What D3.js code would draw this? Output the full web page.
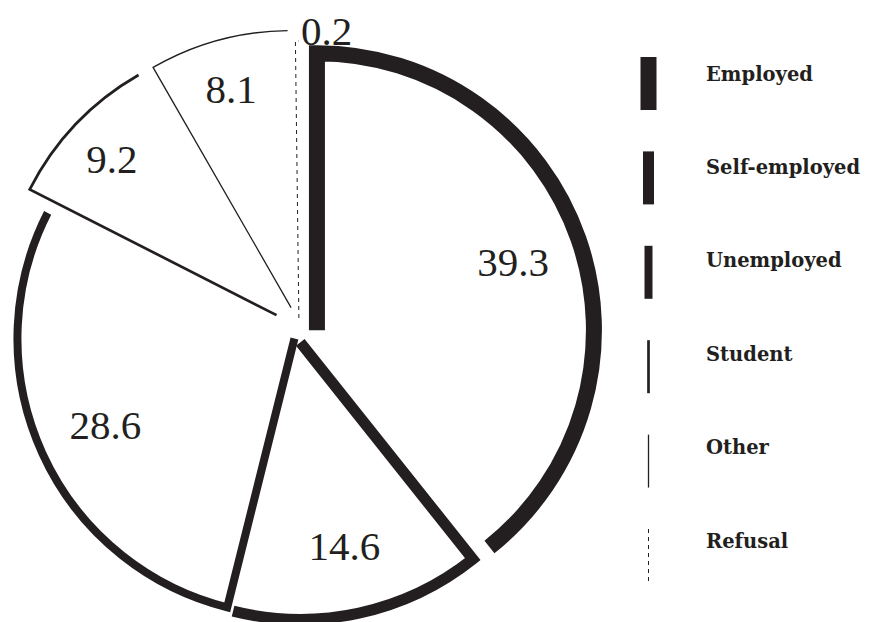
<!DOCTYPE html>
<html>
<head>
<meta charset="utf-8">
<script src="https://cdn.jsdelivr.net/npm/d3@7"></script>
<style>
  html, body { margin: 0; padding: 0; background: #ffffff; }
  svg { display: block; }
</style>
</head>
<body>
<script>
// ---- data ----
const categories = ["Employed", "Self-employed", "Unemployed", "Student", "Other", "Refusal"];
const values = [39.3, 14.6, 28.6, 9.2, 8.1, 0.2];

// ---- styles ----
const strokeWidths = [16, 11, 8, 2.7, 1.3, 1];
const dashes = [null, null, null, null, null, "4,4"];
const explode = [19, 6, 5, 31, 30, 18.5];
const ink = "#231f20";

const W = 873, H = 622;
const cx = 299, cy = 336.5, R = 277;

const svg = d3.select("body").append("svg")
  .attr("width", W).attr("height", H);

const pie = d3.pie().sort(null).value(d => d)(values);

const g = svg.append("g");

function unit(a) { return [Math.sin(a), -Math.cos(a)]; }

pie.forEach((p, i) => {
  const mid = (p.startAngle + p.endAngle) / 2;
  const u = unit(mid);
  const ax = cx + explode[i] * u[0];
  const ay = cy + explode[i] * u[1];
  const path = d3.path();
  path.moveTo(ax, ay);
  path.arc(ax, ay, R, p.startAngle - Math.PI / 2, p.endAngle - Math.PI / 2, false);
  g.append("path")
    .attr("d", path.toString())
    .attr("fill", "none")
    .attr("stroke", ink)
    .attr("stroke-width", strokeWidths[i])
    .attr("stroke-linejoin", "miter")
    .attr("stroke-miterlimit", 10)
    .attr("stroke-linecap", "butt")
    .attr("stroke-dasharray", dashes[i]);

  // label
  const fmt = d3.format(".1f");
  const v = values[i];
  let lx, ly, anchor = "middle";
  if (v < 1) {
    lx = ax + (R + 10) * u[0] + 4;
    ly = ay + (R + 10) * u[1];
    anchor = "start";
  } else {
    const rl = R * (v >= 10 ? 0.75 : 0.82);
    lx = ax + rl * u[0];
    ly = ay + rl * u[1];
  }
  g.append("text")
    .attr("x", lx).attr("y", ly)
    .attr("dy", "0.35em")
    .attr("text-anchor", anchor)
    .attr("font-family", "'Liberation Serif', serif")
    .attr("font-size", 41)
    .attr("fill", ink)
    .text(fmt(v));
});

// ---- legend ----
const ly = d3.scaleLinear().domain([0, categories.length - 1]).range([83.5, 83.5 + 94.4 * 5]);
const legend = svg.append("g");
categories.forEach((c, i) => {
  const y = ly(i);
  legend.append("line")
    .attr("x1", 648.5).attr("x2", 648.5)
    .attr("y1", y - 26.5).attr("y2", y + 26.5)
    .attr("stroke", ink)
    .attr("stroke-width", strokeWidths[i])
    .attr("stroke-dasharray", dashes[i]);
  legend.append("text")
    .attr("x", 706).attr("y", y - 3 - i * 1)
    .attr("font-family", "'DejaVu Serif', serif")
    .attr("font-weight", "bold")
    .attr("font-size", 19.5)
    .attr("fill", ink)
    .text(c);
});
</script>
</body>
</html>
